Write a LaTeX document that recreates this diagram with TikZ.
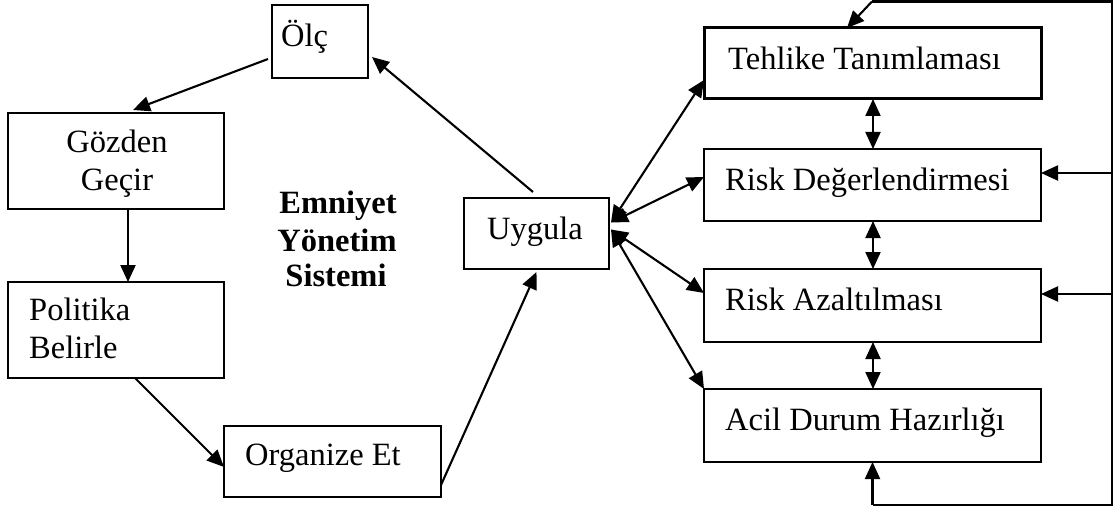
\documentclass[tikz,border=0pt]{standalone}
\usepackage{fontspec}
\setmainfont{Liberation Serif}
\usetikzlibrary{arrows.meta}
\tikzset{
  box/.style={draw, rectangle, line width=2.2pt, inner sep=0pt, outer sep=0pt},
  txt/.style={inner sep=0pt, anchor=base west, font=\fontsize{32.5}{37}\selectfont},
  ctxt/.style={inner sep=0pt, anchor=base, font=\fontsize{32.5}{37}\selectfont},
  btxt/.style={inner sep=0pt, anchor=base, font=\fontsize{32.5}{37}\selectfont\bfseries},
  arr/.style={line width=2.1pt, -{Triangle[length=17pt,width=15pt]}},
  darr/.style={line width=2.1pt, {Triangle[length=17pt,width=15pt]}-{Triangle[length=17pt,width=15pt]}},
  loop/.style={line width=2.6pt, line join=miter}
}
\begin{document}
\begin{tikzpicture}[x=1pt,y=-1pt]
\fill[white] (0,0) rectangle (1117,516);
\useasboundingbox (0,0) rectangle (1117,516);
% boxes
\node[box, minimum width=96pt, minimum height=73pt] (olc) at (320,41.5) {};
\node[box, minimum width=216pt, minimum height=96pt] (goz) at (116,161) {};
\node[box, minimum width=216pt, minimum height=96pt] (pol) at (116,330) {};
\node[box, minimum width=217pt, minimum height=71pt] (org) at (332.5,461.5) {};
\node[box, minimum width=145pt, minimum height=71pt] (uyg) at (536.5,233.5) {};
\node[box, line width=3pt, minimum width=337pt, minimum height=71pt] (teh) at (872.5,63.5) {};
\node[box, minimum width=337pt, minimum height=72pt] (rd) at (872.5,185) {};
\node[box, minimum width=337pt, minimum height=73pt] (ra) at (872.5,305.5) {};
\node[box, minimum width=337pt, minimum height=73pt] (acil) at (872.5,425.5) {};
% texts
\node[txt] (tolc) at (281,47) {Ölç};
\node[ctxt] (tgoz1) at (117,153) {Gözden};
\node[ctxt] (tgoz2) at (117,190) {Geçir};
\node[txt] (tpol1) at (29,320) {Politika};
\node[txt] (tpol2) at (29,358) {Belirle};
\node[txt] (torg) at (245,465) {Organize Et};
\node[txt] (tuyg) at (487,239) {Uygula};
\node[txt] (tteh) at (728,70) {Tehlike Tanımlaması};
\node[txt] (trd) at (725,190) {Risk Değerlendirmesi};
\node[txt] (tra) at (725,310) {Risk Azaltılması};
\node[txt] (tacil) at (725,430) {Acil Durum Hazırlığı};
\node[btxt] (t1) at (338,213) {Emniyet};
\node[btxt] (t2) at (337,251) {Yönetim};
\node[btxt] (t3) at (336,286) {Sistemi};
% cycle connectors
\coordinate (uygtop) at (533,192);
\draw[arr] (uygtop) -- ([xshift=4pt,yshift=-15.5pt]olc.east);
\draw[arr] ([xshift=-4pt,yshift=-17.5pt]olc.west) -- ([xshift=17pt,yshift=3pt]goz.north);
\draw[arr] ([xshift=12pt]goz.south) -- ([xshift=12pt]pol.north);
\draw[arr] ([xshift=19pt]pol.south) -- ([yshift=-5.5pt]org.west);
\draw[arr] ([yshift=-23.5pt]org.east) -- ([yshift=-3pt]uyg.south);
% uygula to right boxes
\draw[darr] ([xshift=2pt,yshift=11pt]uyg.east) -- ([yshift=-16.5pt]teh.west);
\draw[darr] ([xshift=2pt,yshift=11pt]uyg.east) -- ([yshift=8pt]rd.west);
\draw[darr] ([xshift=2pt,yshift=4pt]uyg.east) -- ([yshift=12.5pt]ra.west);
\draw[darr] ([xshift=2pt,yshift=4pt]uyg.east) -- (acil.north west);
% vertical double arrows
\draw[darr] ([xshift=0.5pt]teh.south) -- ([xshift=0.5pt]rd.north);
\draw[darr] ([xshift=0.5pt]rd.south) -- ([xshift=0.5pt]ra.north);
\draw[darr] ([xshift=0.5pt]ra.south) -- ([xshift=0.5pt]acil.north);
% feedback loop
\coordinate (tr) at (1112,1.5);
\coordinate (br) at (1112,505);
\coordinate (tl) at (872,1.5);
\coordinate (bl) at (872.5,505);
\coordinate (rdin) at ([yshift=12pt]rd.east);
\coordinate (rain) at ([yshift=11.5pt]ra.east);
\draw[loop] (bl) -- (br) -- (tr) -- (tl);
\draw[arr] (tl) -- ([xshift=-25.5pt]teh.north);
\draw[arr] (bl) -- (acil.south);
\draw[arr] (rdin -| tr) -- (rdin);
\draw[arr] (rain -| tr) -- (rain);
\end{tikzpicture}
\end{document}
